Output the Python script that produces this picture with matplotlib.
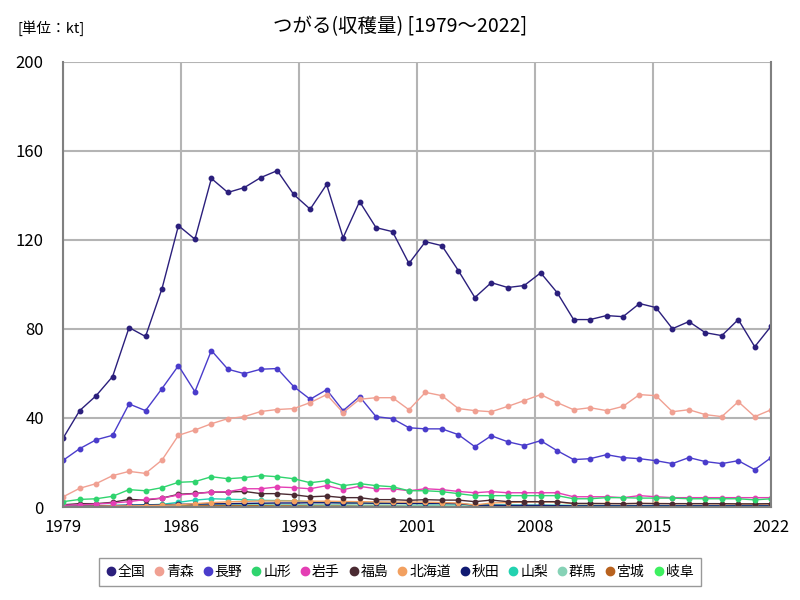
import numpy as np
import matplotlib
matplotlib.use("Agg")
import matplotlib.pyplot as plt

plt.rcParams['font.family'] = ['Noto Sans CJK JP', 'DejaVu Sans']

years = list(range(1979, 2023))

zenkoku = [31.0, 43.3, 50.0, 58.6, 80.6, 76.6, 98.1, 126.4, 120.3, 147.6,
           141.3, 143.5, 148.0, 151.1, 140.4, 133.8, 144.9, 121.0, 137.2, 125.5,
           123.7, 109.4, 119.2, 117.4, 106.2, 94.1, 100.8, 98.6, 99.5, 105.2,
           96.3, 84.2, 84.2, 86.0, 85.5, 91.4, 89.6, 80.1, 83.3, 78.3,
           77.0, 84.2, 72.0, 81.3]
aomori = [4.6, 8.4, 10.5, 14.1, 16.0, 15.1, 21.1, 32.2, 34.6, 37.4,
          39.7, 40.6, 42.9, 43.8, 44.2, 46.9, 50.5, 42.4, 48.4, 49.1,
          49.1, 43.7, 51.5, 50.0, 44.2, 43.3, 42.8, 45.2, 47.8, 50.5,
          46.9, 43.7, 44.6, 43.3, 45.2, 50.5, 50.0, 42.8, 43.7, 41.5,
          40.6, 47.3, 40.6, 43.7]
nagano = [21.0, 26.2, 30.2, 32.2, 46.3, 43.3, 53.2, 63.5, 51.8, 70.3,
          61.9, 59.9, 61.9, 62.2, 54.1, 48.4, 52.7, 43.3, 49.6, 40.6,
          39.7, 35.6, 35.1, 35.1, 32.5, 27.1, 32.0, 29.3, 27.6, 29.8,
          25.3, 21.3, 21.7, 23.5, 22.2, 21.7, 20.8, 19.5, 22.2, 20.4,
          19.5, 20.8, 16.8, 22.2]
yamagata = [2.4, 3.4, 3.7, 4.8, 7.8, 7.3, 8.7, 11.1, 11.4, 13.6,
            12.7, 13.2, 14.1, 13.6, 12.7, 10.9, 11.8, 9.6, 10.5, 9.6,
            9.1, 7.3, 7.3, 6.9, 6.0, 5.1, 5.1, 5.1, 5.1, 5.1,
            5.1, 3.7, 3.7, 4.2, 4.2, 4.0, 4.0, 4.0, 3.7, 3.7,
            3.7, 3.7, 3.2, 3.7]
iwate = [0.8, 1.0, 1.3, 1.8, 2.4, 3.4, 4.0, 5.4, 6.0, 6.7,
         6.9, 8.2, 8.2, 9.0, 8.7, 8.2, 9.6, 7.8, 9.3, 8.2,
         8.2, 7.3, 8.2, 7.8, 7.0, 6.4, 6.9, 6.4, 6.4, 6.4,
         6.4, 4.6, 4.6, 4.6, 4.2, 5.1, 4.6, 4.2, 4.2, 4.2,
         4.2, 4.2, 4.2, 4.2]
fukushima = [1.0, 1.5, 1.5, 2.1, 3.4, 3.1, 4.0, 5.7, 6.1, 6.7,
             6.7, 7.0, 6.0, 6.0, 5.5, 4.6, 4.9, 4.2, 4.2, 3.3,
             3.3, 3.0, 3.3, 3.1, 3.1, 2.4, 3.1, 2.4, 2.4, 2.4,
             2.4, 1.6, 1.6, 1.5, 1.5, 1.6, 1.5, 1.5, 1.5, 1.5,
             1.5, 1.4, 1.4, 1.5]
hokkaido = [0.3, 0.3, 0.4, 0.5, 0.5, 0.6, 0.8, 1.0, 1.5, 2.0,
            2.3, 2.5, 2.7, 2.7, 2.7, 2.6, 2.6, 2.5, 2.4, 2.3,
            2.2, 2.2, 2.2, 2.0, 1.8, 0.9, 1.8, 2.0, 2.2, 2.3,
            2.2, 1.5, 1.5, 1.6, 1.5, 1.6, 1.6, 1.5, 1.5, 1.5,
            1.4, 1.4, 1.3, 1.3]
akita = [0.3, 0.4, 0.5, 0.6, 0.8, 0.9, 1.0, 1.2, 1.3, 1.4,
         1.5, 1.6, 1.7, 1.8, 1.8, 1.9, 1.9, 1.8, 1.8, 1.7,
         1.7, 1.6, 1.6, 1.6, 1.5, 0.8, 0.8, 0.7, 0.7, 0.7,
         0.6, 0.5, 0.5, 0.5, 0.5, 0.5, 0.5, 0.5, 0.5, 0.5,
         0.5, 0.5, 0.5, 0.5]
yamanashi = [0.5, 0.6, 0.6, 0.7, 0.8, 0.9, 1.2, 2.1, 3.1, 3.7,
             3.5, 3.3, 3.0, 2.9, 2.8, 2.3, 2.2, 2.0, 1.9, 1.8,
             1.8, 1.6, 1.5, 1.5, 1.4, 1.0, 0.9, 0.9, 0.8, 0.8,
             0.8, 0.7, 0.7, 0.6, 0.6, 0.6, 0.6, 0.6, 0.5, 0.5,
             0.5, 0.5, 0.5, 0.5]
gunma = [0.3, 0.4, 0.4, 0.5, 0.6, 0.7, 0.8, 1.0, 1.1, 1.2,
         1.2, 1.2, 1.2, 1.1, 1.1, 1.0, 1.0, 1.0, 0.9, 0.9,
         0.9, 0.8, 0.8, 0.8, 0.7, 0.6, 0.6, 0.6, 0.5, 0.5,
         0.5, 0.4, 0.4, 0.4, 0.4, 0.4, 0.4, 0.4, 0.3, 0.3,
         0.3, 0.3, 0.3, 0.3]
miyagi = [0.2, 0.2, 0.3, 0.3, 0.4, 0.4, 0.5, 0.6, 0.7, 0.8,
          0.8, 0.8, 0.8, 0.8, 0.7, 0.7, 0.7, 0.6, 0.6, 0.6,
          0.6, 0.5, 0.5, 0.5, 0.5, 0.4, 0.4, 0.4, 0.4, 0.4,
          0.4, 0.3, 0.3, 0.3, 0.3, 0.3, 0.3, 0.3, 0.3, 0.3,
          0.3, 0.3, 0.2, 0.2]
gifu = [0.1, 0.1, 0.2, 0.2, 0.2, 0.3, 0.3, 0.4, 0.4, 0.5,
        0.5, 0.5, 0.5, 0.5, 0.5, 0.4, 0.4, 0.4, 0.4, 0.4,
        0.4, 0.3, 0.3, 0.3, 0.3, 0.3, 0.3, 0.3, 0.2, 0.2,
        0.2, 0.2, 0.2, 0.2, 0.2, 0.2, 0.2, 0.2, 0.2, 0.2,
        0.2, 0.2, 0.2, 0.2]

names = ['全国', '青森', '長野', '山形', '岩手', '福島', '北海道', '秋田', '山梨', '群馬', '宮城', '岐阜']
series = [zenkoku, aomori, nagano, yamagata, iwate, fukushima, hokkaido, akita,
          yamanashi, gunma, miyagi, gifu]
colors = ['#2b1f7c', '#f0a092', '#4a3ccb', '#2fd46e', '#e43eb4', '#4a2a32',
          '#f2a060', '#101a72', '#22d2b0', '#86d2b6', '#b8621e', '#3ef060']

fig = plt.figure(figsize=(8, 6), dpi=100)
ax = fig.add_axes([0.079, 0.155, 0.885, 0.742])

# draw small series first so the big ones sit on top
for name, vals, col in reversed(list(zip(names, series, colors))):
    ax.plot(years, vals, color=col, lw=1.0, marker='o', markersize=3.2, label=name)

ax.set_xlim(1979, 2022)
ax.set_ylim(0, 200)
ticks = np.linspace(1979, 2022, 7)
ax.set_xticks(ticks)
ax.set_xticklabels([str(int(t + 0.5)) for t in ticks])
ax.set_yticks([0, 40, 80, 120, 160, 200])
ax.tick_params(labelsize=12, length=0)
ax.tick_params(axis='x', pad=9)
ax.tick_params(axis='y', pad=14)
ax.grid(color='#b4b4b4', lw=1.5)
ax.set_axisbelow(True)
for s in ['left', 'right', 'bottom']:
    ax.spines[s].set_color('#808080')
    ax.spines[s].set_linewidth(1.5)
ax.spines['top'].set_visible(False)

fig.text(0.5, 0.955, 'つがる(収穫量) [1979～2022]', ha='center', va='center', fontsize=14)
fig.text(0.022, 0.953, '[単位：kt]', ha='left', va='center', fontsize=10.5)

handles, labels = ax.get_legend_handles_labels()
order = list(reversed(range(len(handles))))
leg = fig.legend([handles[i] for i in order], [labels[i] for i in order],
                 loc='center', bbox_to_anchor=(0.5, 0.047), ncol=12, fontsize=10,
                 frameon=True, fancybox=False, edgecolor='#808080',
                 handlelength=0.6, handletextpad=0.2, columnspacing=0.7,
                 borderpad=0.5)
for h in leg.legend_handles:
    h.set_linestyle('none')
    h.set_markersize(6)

fig.savefig('out.png', dpi=100)
